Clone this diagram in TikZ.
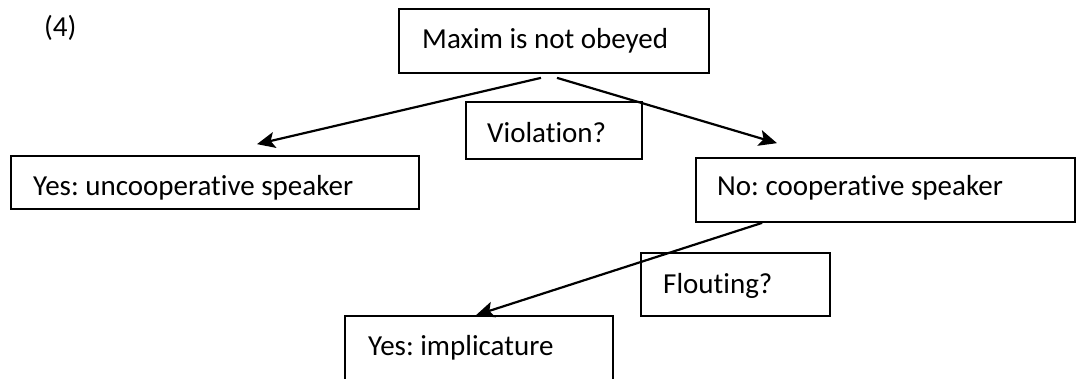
\documentclass[tikz,border=0pt]{standalone}
\usepackage{fontspec}
\setmainfont{Carlito}[Ligatures=NoCommon]
\frenchspacing
\usetikzlibrary{arrows.meta,calc}
\begin{document}
\begin{tikzpicture}[x=1pt,y=-1pt,
  box/.style={draw, line width=1.7pt, rectangle, inner sep=0pt},
  lbl/.style={anchor=base west, inner sep=0pt, font=\fontsize{29}{34}\selectfont},
  arr/.style={line width=2.2pt, -{Stealth[length=18pt,width=16pt,inset=4pt]}}]
\useasboundingbox (0,0) rectangle (1081,378);
\clip (0,0) rectangle (1081,378);
% boxes
\node[box, minimum width=310pt, minimum height=64pt] (maxim) at (554,41) {};
\node[box, minimum width=176pt, minimum height=57pt] (viol) at (554,130.5) {};
\node[box, minimum width=408pt, minimum height=53pt] (yesunc) at (215,182.5) {};
\node[box, minimum width=379pt, minimum height=64pt] (nocoop) at (885.5,190) {};
\node[box, minimum width=189pt, minimum height=63pt] (flout) at (735.5,284.5) {};
\node[box, minimum width=268pt, minimum height=74pt] (yesimpl) at (479,353) {};
% texts
\node[lbl] (num) at (44,36) {(4)};
\node[lbl] (tmaxim) at (422,48) {Maxim is not obeyed};
\node[lbl] (tviol) at (487,142) {Violation?};
\node[lbl] (tyesunc) at (33,195) {Yes: uncooperative speaker};
\node[lbl] (tnocoop) at (717,195) {No: cooperative speaker};
\node[lbl] (tflout) at (663,293) {Flouting?};
\node[lbl] (tyesimpl) at (368,355) {Yes: implicature};
% connectors
\draw[arr] ($(maxim.south)+(-13,4)$) -- ($(yesunc.north)+(42,-11)$);
\draw[arr] ($(maxim.south)+(3,4)$) -- ($(nocoop.north)+(-108.5,-14)$);
\draw[arr] ($(nocoop.south west)+(67,0)$) -- ($(yesimpl.north)+(-3,0)$);
\end{tikzpicture}
\end{document}
